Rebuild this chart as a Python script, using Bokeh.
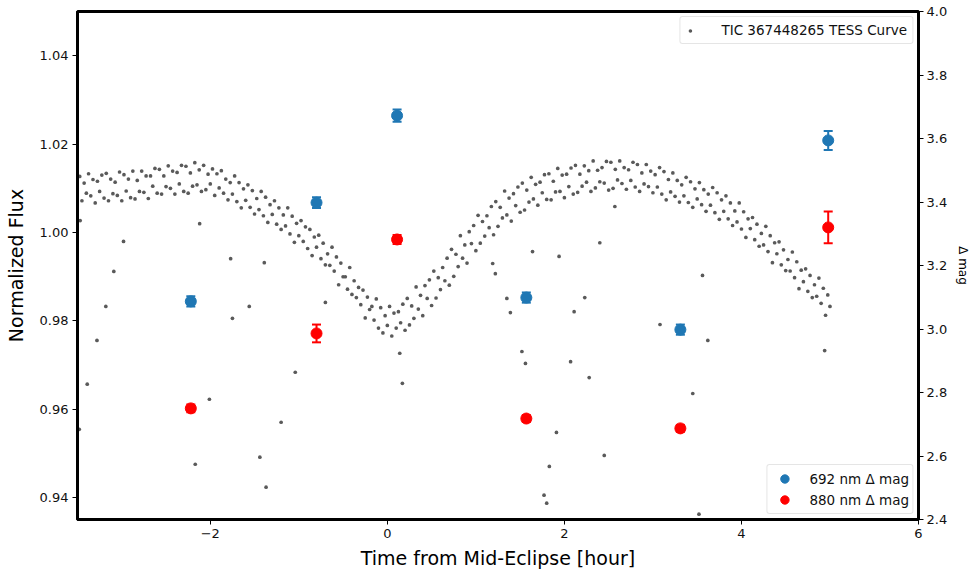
import math
from bokeh.plotting import figure
from bokeh.models import (Range1d, LinearAxis, FixedTicker, NumeralTickFormatter,
                          ColumnDataSource, Legend, LegendItem)
from bokeh.embed import file_html
from bokeh.resources import INLINE

# ---------------- data ----------------
# TESS light curve: time from mid-eclipse [hour]
tess_time = [
    -3.475, -3.45, -3.425, -3.4, -3.375, -3.35, -3.325, -3.3,
    -3.275, -3.25, -3.225, -3.2, -3.175, -3.15, -3.125, -3.1,
    -3.075, -3.05, -3.025, -3.0, -2.975, -2.95, -2.925, -2.9,
    -2.875, -2.85, -2.825, -2.8, -2.775, -2.75, -2.725, -2.7,
    -2.675, -2.65, -2.625, -2.6, -2.575, -2.55, -2.525, -2.5,
    -2.475, -2.45, -2.425, -2.4, -2.375, -2.35, -2.325, -2.3,
    -2.275, -2.25, -2.225, -2.2, -2.175, -2.15, -2.125, -2.1,
    -2.075, -2.05, -2.025, -2.0, -1.975, -1.95, -1.925, -1.9,
    -1.875, -1.85, -1.825, -1.8, -1.775, -1.75, -1.725, -1.7,
    -1.675, -1.65, -1.625, -1.6, -1.575, -1.55, -1.525, -1.5,
    -1.475, -1.45, -1.425, -1.4, -1.375, -1.35, -1.325, -1.3,
    -1.275, -1.25, -1.225, -1.2, -1.175, -1.15, -1.125, -1.1,
    -1.075, -1.05, -1.025, -1.0, -0.975, -0.95, -0.925, -0.9,
    -0.875, -0.85, -0.825, -0.8, -0.775, -0.75, -0.725, -0.7,
    -0.675, -0.65, -0.625, -0.6, -0.575, -0.55, -0.525, -0.5,
    -0.475, -0.45, -0.425, -0.4, -0.375, -0.35, -0.325, -0.3,
    -0.275, -0.25, -0.225, -0.2, -0.175, -0.15, -0.125, -0.1,
    -0.075, -0.05, -0.025, 0.0, 0.025, 0.05, 0.075, 0.1,
    0.125, 0.15, 0.175, 0.2, 0.225, 0.25, 0.275, 0.3,
    0.325, 0.35, 0.375, 0.4, 0.425, 0.45, 0.475, 0.5,
    0.525, 0.55, 0.575, 0.6, 0.625, 0.65, 0.675, 0.7,
    0.725, 0.75, 0.775, 0.8, 0.825, 0.85, 0.875, 0.9,
    0.925, 0.95, 0.975, 1.0, 1.025, 1.05, 1.075, 1.1,
    1.125, 1.15, 1.175, 1.2, 1.225, 1.25, 1.275, 1.3,
    1.325, 1.35, 1.375, 1.4, 1.425, 1.45, 1.475, 1.5,
    1.525, 1.55, 1.575, 1.6, 1.625, 1.65, 1.675, 1.7,
    1.725, 1.75, 1.775, 1.8, 1.825, 1.85, 1.875, 1.9,
    1.925, 1.95, 1.975, 2.0, 2.025, 2.05, 2.075, 2.1,
    2.125, 2.15, 2.175, 2.2, 2.225, 2.25, 2.275, 2.3,
    2.325, 2.35, 2.375, 2.4, 2.425, 2.45, 2.475, 2.5,
    2.525, 2.55, 2.575, 2.6, 2.625, 2.65, 2.675, 2.7,
    2.725, 2.75, 2.775, 2.8, 2.825, 2.85, 2.875, 2.9,
    2.925, 2.95, 2.975, 3.0, 3.025, 3.05, 3.075, 3.1,
    3.125, 3.15, 3.175, 3.2, 3.225, 3.25, 3.275, 3.3,
    3.325, 3.35, 3.375, 3.4, 3.425, 3.45, 3.475, 3.5,
    3.525, 3.55, 3.575, 3.6, 3.625, 3.65, 3.675, 3.7,
    3.725, 3.75, 3.775, 3.8, 3.825, 3.85, 3.875, 3.9,
    3.925, 3.95, 3.975, 4.0, 4.025, 4.05, 4.075, 4.1,
    4.125, 4.15, 4.175, 4.2, 4.225, 4.25, 4.275, 4.3,
    4.325, 4.35, 4.375, 4.4, 4.425, 4.45, 4.475, 4.5,
    4.525, 4.55, 4.575, 4.6, 4.625, 4.65, 4.675, 4.7,
    4.725, 4.75, 4.775, 4.8, 4.825, 4.85, 4.875, 4.9,
    4.925, 4.95, 4.975, 5.0,
]
# TESS flux deviation from 1 in parts per thousand
tess_ppt = [
    12.7, 7.2, 11.2, 8.9, 13.3, 8.3, 12.0, 6.7,
    11.6, 9.3, 13.0, 7.8, 13.4, 7.2, 12.1, 8.8,
    11.4, 8.4, 13.7, 7.2, 13.1, 9.4, 12.1, 7.9,
    13.9, 7.6, 11.8, 9.3, 13.9, 9.1, 12.8, 7.7,
    12.8, 10.5, 14.5, 8.9, 14.3, 8.7, 12.8, 10.4,
    15.1, 10.0, 13.9, 8.7, 13.6, 11.0, 15.2, 9.3,
    15.0, 8.9, 13.5, 10.5, 15.8, 10.8, 14.2, 9.3,
    15.2, 9.7, 13.2, 11.0, 14.4, 8.4, 13.3, 10.1,
    14.0, 8.9, 12.1, 7.4, 11.3, 8.7, 12.8, 7.0,
    11.3, 5.6, 9.9, 7.3, 10.8, 5.7, 9.5, 4.2,
    7.7, 5.2, 9.3, 3.8, 8.0, 2.3, 6.3, 4.1,
    7.2, 1.9, 5.6, 0.7, 4.0, 1.5, 5.6, -0.3,
    3.7, -2.2, 2.1, -0.7, 2.7, -2.0, 1.3, -3.6,
    0.7, -5.2, -1.0, -3.3, -0.6, -5.9, -2.4, -7.3,
    -4.8, -7.4, -3.3, -8.7, -5.5, -11.8, -6.9, -10.0,
    -10.0, -12.8, -7.9, -14.0, -10.9, -14.7, -12.4, -16.3,
    -13.0, -19.3, -14.6, -17.4, -16.7, -19.8, -15.0, -21.6,
    -17.0, -22.7, -18.8, -21.0, -16.7, -23.4, -18.2, -21.6,
    -17.9, -20.4, -16.2, -22.1, -14.9, -20.9, -16.6, -19.4,
    -12.3, -17.3, -14.2, -18.8, -12.0, -14.9, -10.7, -16.5,
    -8.7, -14.8, -10.2, -12.9, -7.9, -10.9, -5.8, -11.9,
    -3.8, -9.9, -4.9, -7.7, -0.7, -5.8, -2.8, -6.9,
    0.2, -2.5, 1.6, -4.1, 3.9, -2.4, 2.5, -0.8,
    3.8, 1.1, 5.9, -0.5, 7.0, 1.4, 5.7, 3.3,
    9.4, 4.0, 7.8, 2.6, 8.8, 6.1, 10.3, 4.6,
    11.2, 5.1, 9.6, 6.9, 12.5, 7.6, 10.9, 6.2,
    11.4, 9.0, 13.1, 7.5, 13.3, 7.4, 11.6, 9.2,
    14.5, 9.3, 13.0, 7.9, 13.2, 10.4, 14.6, 8.7,
    15.2, 9.1, 13.2, 10.5, 15.1, 11.4, 14.0, 9.3,
    16.2, 10.1, 14.1, 11.5, 14.7, 11.2, 16.1, 9.6,
    15.9, 10.0, 14.3, 11.9, 16.2, 11.1, 14.7, 9.8,
    14.2, 11.8, 15.9, 10.3, 15.4, 9.3, 13.5, 11.0,
    15.4, 10.4, 13.9, 9.0, 13.1, 10.3, 14.7, 8.7,
    13.8, 7.4, 12.0, 9.2, 13.5, 8.2, 11.8, 6.9,
    10.8, 8.3, 12.5, 6.8, 11.5, 5.7, 9.9, 7.6,
    11.3, 6.3, 9.7, 4.8, 8.7, 6.2, 10.2, 4.5,
    9.0, 3.0, 7.4, 4.8, 8.3, 3.1, 6.7, 1.6,
    4.9, 2.4, 6.7, 0.8, 4.7, -1.1, 3.1, 0.9,
    3.4, -1.6, 1.9, -3.1, -0.2, -2.8, 1.4, -4.3,
    -0.7, -6.8, -2.3, -4.8, -2.1, -7.3, -3.9, -8.6,
    -6.1, -8.7, -4.4, -10.2, -6.6, -12.7, -8.5, -11.1,
    -8.2, -13.3, -9.7, -14.7, -11.8, -14.4, -10.3, -16.0,
    -12.6, -18.7, -14.1, -16.7,
]
# scattered outlier points of the TESS curve
out_time = [-3.47, -2.98, -3.09, -2.12, -1.77, -1.39, -3.18, -3.28, -3.39, -3.48,
            -2.01, -2.17, -1.75, -1.56, -1.04, -1.20, -1.44, -1.37, -0.70,
            0.14, 0.17, 1.35, 1.39, 1.52, 1.56, 2.23, 2.11, 2.07, 2.28, 1.91,
            2.45, 1.83, 1.77, 1.80, 3.08, 3.62, 3.45, 3.52, 4.94,
            1.19, 1.22, 1.64, 1.94, 2.40, 2.57, 3.56]
out_flux = [1.0027, 0.9980, 0.9912, 1.0020, 0.9941, 0.9932, 0.9833, 0.9756, 0.9657, 0.9555,
            0.9623, 0.9476, 0.9806, 0.9833, 0.9684, 0.9571, 0.9492, 0.9424, 0.9842,
            0.9727, 0.9659, 0.9851, 0.9819, 0.9731, 0.9704, 0.9853, 0.9821, 0.9708, 0.9672, 0.9548,
            0.9496, 0.9471, 0.9406, 0.9388, 0.9792, 0.9756, 0.9636, 0.9363, 0.9733,
            0.9930, 0.9907, 0.9957, 0.9946, 0.9977, 1.0059, 0.9903]

# photometry (right axis, delta mag)
phot_time = [-2.22, -0.80, 0.11, 1.57, 3.31, 4.98]
mag_692 = [3.087, 3.398, 3.672, 3.099, 2.998, 3.594]
err_692 = [0.016, 0.017, 0.019, 0.016, 0.016, 0.030]
mag_880 = [2.750, 2.986, 3.282, 2.718, 2.687, 3.320]
err_880 = [0.012, 0.028, 0.014, 0.011, 0.011, 0.050]

x_ticks = [-2, 0, 2, 4, 6]
flux_ticks = [0.94, 0.96, 0.98, 1.00, 1.02, 1.04]
mag_ticks = [2.4, 2.6, 2.8, 3.0, 3.2, 3.4, 3.6, 3.8, 4.0]

# ---------------- figure ----------------
FONT = "DejaVu Sans"
p = figure(width=973, height=572, x_range=Range1d(-3.5, 6.0), y_range=Range1d(0.9351, 1.05),
           output_backend="svg", toolbar_location=None,
           min_border_left=77, min_border_right=54, min_border_top=11, min_border_bottom=53)
p.extra_y_ranges = {"mag": Range1d(2.4, 4.0)}
p.grid.visible = False
p.outline_line_color = "black"
p.outline_line_width = 3
p.background_fill_color = "white"
p.border_fill_color = "white"

tess_flux = [1 + v / 1000.0 for v in tess_ppt]
dot_color = "#5a5a5a"
r_tess = p.scatter(tess_time, tess_flux, size=3.7, color=dot_color, line_color=None)
p.scatter(out_time, out_flux, size=3.7, color=dot_color, line_color=None)

def errorbars(mags, errs, color):
    src = ColumnDataSource(dict(x=phot_time, y=mags,
                                lo=[m - e for m, e in zip(mags, errs)],
                                hi=[m + e for m, e in zip(mags, errs)]))
    p.segment(x0="x", y0="lo", x1="x", y1="hi", source=src, line_color=color,
              line_width=2, y_range_name="mag")
    p.scatter(x="x", y="lo", source=src, marker="dash", size=9, line_color=color,
              line_width=2, y_range_name="mag")
    p.scatter(x="x", y="hi", source=src, marker="dash", size=9, line_color=color,
              line_width=2, y_range_name="mag")
    r = p.scatter(x="x", y="y", source=src, size=11, color=color, line_color=color,
                  y_range_name="mag")
    return r

r_b = errorbars(mag_692, err_692, "#1f77b4")
r_r = errorbars(mag_880, err_880, "#ff0000")

# axes styling
def style_axis(ax, label_size):
    ax.axis_line_color = "black"
    ax.axis_line_width = 3
    ax.major_tick_out = 5
    ax.major_tick_in = 0
    ax.major_tick_line_width = 1
    ax.major_tick_line_color = "black"
    ax.minor_tick_out = 0
    ax.minor_tick_in = 0
    ax.major_label_text_font = FONT
    ax.major_label_text_font_size = "13px"
    ax.major_label_text_color = "#111111"
    ax.axis_label_text_font = FONT
    ax.axis_label_text_font_size = label_size
    ax.axis_label_text_font_style = "normal"
    ax.axis_label_text_color = "black"

xa = p.xaxis[0]
style_axis(xa, "19px")
xa.axis_label = "Time from Mid-Eclipse [hour]"
xa.ticker = FixedTicker(ticks=x_ticks)
xa.major_label_overrides = {-2: "\u22122"}
xa.axis_label_standoff = 6
xa.major_label_standoff = 4

ya = p.yaxis[0]
style_axis(ya, "19px")
ya.axis_label = "Normalized Flux"
ya.ticker = FixedTicker(ticks=flux_ticks)
ya.formatter = NumeralTickFormatter(format="0.00")
ya.axis_label_standoff = 10
ya.major_label_standoff = 4

ra = LinearAxis(y_range_name="mag", axis_label="\u0394 mag")
style_axis(ra, "12px")
ra.ticker = FixedTicker(ticks=mag_ticks)
ra.formatter = NumeralTickFormatter(format="0.0")
ra.axis_label_standoff = 6
ra.major_label_standoff = 3
ra.axis_label_orientation = "vertical"
p.add_layout(ra, "right")

def style_legend(leg):
    leg.label_text_font = FONT
    leg.label_text_font_size = "13.5px"
    leg.label_text_color = "#111111"
    leg.border_line_color = "#cccccc"
    leg.border_line_width = 1
    leg.background_fill_alpha = 0.85
    leg.margin = 5
    leg.spacing = 0
    if "border_radius" in Legend.properties():
        leg.border_radius = 3

leg1 = Legend(items=[LegendItem(label="TIC 367448265 TESS Curve", renderers=[r_tess])],
              location="top_right")
style_legend(leg1)
leg1.glyph_width = 9
leg1.glyph_height = 9
leg1.label_height = 16
leg1.padding = 5
leg1.label_standoff = 27

leg2 = Legend(items=[LegendItem(label="692 nm \u0394 mag", renderers=[r_b]),
                     LegendItem(label="880 nm \u0394 mag", renderers=[r_r])],
              location="bottom_right")
style_legend(leg2)
leg2.glyph_width = 28
leg2.glyph_height = 21
leg2.label_height = 20
leg2.label_standoff = 11
leg2.padding = 3

p.add_layout(leg1)
p.add_layout(leg2)

open("out.html", "w").write(file_html(p, INLINE))
